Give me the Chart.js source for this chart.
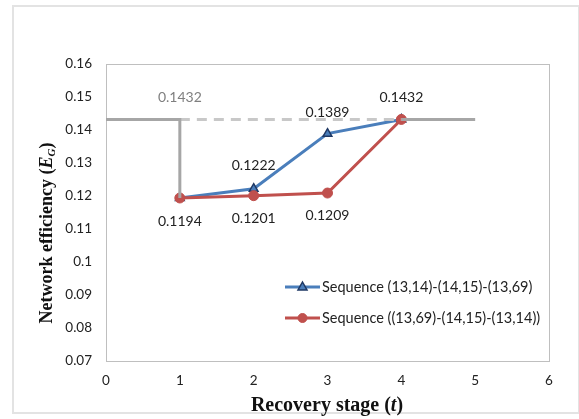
<!DOCTYPE html>
<html>
<head>
<meta charset="utf-8">
<script src="https://cdn.jsdelivr.net/npm/chart.js@4/dist/chart.umd.min.js"></script>
<style>
  html, body { margin: 0; padding: 0; background: #fff; }
  #wrap { width: 579px; height: 419px; position: relative; }
</style>
</head>
<body>
<div id="wrap"><canvas id="c" width="579" height="419"></canvas></div>
<script>
// Recovery stages and network efficiency for each repair sequence
const stages = [1, 2, 3, 4];
const seqA = [0.1194, 0.1222, 0.1389, 0.1432];   // (13,14)-(14,15)-(13,69)
const seqB = [0.1194, 0.1201, 0.1209, 0.1432];   // (13,69)-(14,15)-(13,14)
const seriesNames = ['Sequence (13,14)-(14,15)-(13,69)', 'Sequence ((13,69)-(14,15)-(13,14))'];

// Undamaged reference efficiency and the drop right after the disruption
const baseStages = [0, 1, 4, 5];
const baseValue = [0.1432, 0.1432, 0.1432, 0.1432];
const dropValue = [0.1194];

const xTicks = [0, 1, 2, 3, 4, 5, 6];
const yTicks = [0.07, 0.08, 0.09, 0.1, 0.11, 0.12, 0.13, 0.14, 0.15, 0.16];

const BLUE = '#4a7ebb';
const RED = '#c0504d';
const GREY = '#a6a6a6';
const GREY_DASH = '#c8c8c8';
const tickFont = { family: 'Lato, "Open Sans", sans-serif', size: 13.5 };

const pts = (xs, ys) => xs.map((x, i) => ({ x: x, y: ys[i] }));

const datasets = [
  { // solid reference before disruption, then the drop
    data: [{ x: baseStages[0], y: baseValue[0] }, { x: baseStages[1], y: baseValue[1] }, { x: baseStages[1], y: dropValue[0] }],
    borderColor: GREY, borderWidth: 3, pointRadius: 0, showLine: true, order: 1
  },
  { // dashed reference during recovery
    data: [{ x: baseStages[1], y: baseValue[1] }, { x: baseStages[2], y: baseValue[2] }],
    borderColor: GREY_DASH, borderWidth: 3, borderDash: [10, 7], pointRadius: 0, showLine: true, order: 1
  },
  { // solid reference after full recovery
    data: [{ x: baseStages[2], y: baseValue[2] }, { x: baseStages[3], y: baseValue[3] }],
    borderColor: GREY, borderWidth: 3, pointRadius: 0, showLine: true, order: 1
  },
  {
    label: seriesNames[0],
    data: pts(stages, seqA),
    borderColor: BLUE, borderWidth: 3, showLine: true,
    pointStyle: 'triangle', pointRadius: 5, pointBackgroundColor: BLUE,
    pointBorderColor: '#1f3864', pointBorderWidth: 1.5, order: 3
  },
  {
    label: seriesNames[1],
    data: pts(stages, seqB),
    borderColor: RED, borderWidth: 3, showLine: true,
    pointStyle: 'circle', pointRadius: 5, pointBackgroundColor: RED,
    pointBorderColor: RED, pointBorderWidth: 1, order: 2
  }
];

// Value labels: [dataset index, point index, vertical offset, colour]
const valueLabels = [
  [0, 1, -22, '#7f7f7f'],
  [3, 1, -23, '#222'],
  [3, 2, -21, '#222'],
  [3, 3, -22, '#222'],
  [4, 0, 24, '#222'],
  [4, 1, 23, '#222'],
  [4, 2, 22, '#222']
];

const decor = {
  id: 'decor',
  beforeDraw(chart) {
    const ctx = chart.ctx, a = chart.chartArea;
    ctx.save();
    ctx.fillStyle = '#fff';
    ctx.fillRect(0, 0, chart.width, chart.height);
    // outer frame
    ctx.strokeStyle = '#e3e3e3';
    ctx.lineWidth = 2;
    ctx.strokeRect(13, 6, 566, 407);
    // plot box
    ctx.strokeStyle = '#bfbfbf';
    ctx.lineWidth = 1;
    ctx.strokeRect(Math.round(a.left) + 0.5, Math.round(a.top) + 0.5, Math.round(a.right - a.left), Math.round(a.bottom - a.top));
    ctx.restore();
  },
  afterDraw(chart) {
    const ctx = chart.ctx, a = chart.chartArea;
    ctx.save();
    // data value labels
    ctx.font = '14px Lato, "Open Sans", sans-serif';
    ctx.textAlign = 'center';
    ctx.textBaseline = 'middle';
    valueLabels.forEach(([d, i, dy, col]) => {
      const el = chart.getDatasetMeta(d).data[i];
      const v = chart.data.datasets[d].data[i].y;
      ctx.fillStyle = col;
      ctx.fillText(v.toFixed(4), el.x, el.y + dy);
    });

    // legend inside the plot
    const lx = 285, lys = [287, 318];
    [3, 4].forEach((d, k) => {
      const ds = chart.data.datasets[d];
      const y = lys[k];
      const cx = lx + 17.5;
      ctx.strokeStyle = ds.borderColor;
      ctx.lineWidth = 3;
      ctx.beginPath(); ctx.moveTo(lx, y); ctx.lineTo(lx + 35, y); ctx.stroke();
      ctx.fillStyle = ds.pointBackgroundColor;
      ctx.strokeStyle = ds.pointBorderColor;
      ctx.lineWidth = ds.pointBorderWidth;
      ctx.beginPath();
      if (ds.pointStyle === 'triangle') {
        const r = 5;
        ctx.moveTo(cx, y - r);
        ctx.lineTo(cx + r * 0.9, y + r * 0.6);
        ctx.lineTo(cx - r * 0.9, y + r * 0.6);
        ctx.closePath();
      } else {
        ctx.arc(cx, y, 4.5, 0, Math.PI * 2);
      }
      ctx.fill(); ctx.stroke();
      ctx.fillStyle = '#222';
      ctx.font = '14.5px Lato, "Open Sans", sans-serif';
      ctx.textAlign = 'left';
      ctx.fillText(ds.label, lx + 37, y);
    });

    // axis titles (Times bold with italic symbols)
    const fam = '"Liberation Serif", "DejaVu Serif", serif';
    ctx.textBaseline = 'alphabetic';
    ctx.fillStyle = '#111';

    // x title
    const xParts = [['Recovery stage (', 'bold 20px ' + fam], ['t', 'italic bold 20px ' + fam], [')', 'bold 20px ' + fam]];
    let total = 0;
    xParts.forEach(([t, f]) => { ctx.font = f; total += ctx.measureText(t).width; });
    let x0 = 327 - total / 2;
    xParts.forEach(([t, f]) => { ctx.font = f; ctx.fillText(t, x0, 411); x0 += ctx.measureText(t).width; });

    // y title
    const yParts = [
      ['Network efficiency (', 'bold 18px ' + fam, 0],
      ['E', 'italic bold 18px ' + fam, 0],
      ['G', 'italic bold 11px ' + fam, 3],
      [')', 'bold 18px ' + fam, 0]
    ];
    total = 0;
    yParts.forEach(([t, f]) => { ctx.font = f; total += ctx.measureText(t).width; });
    ctx.translate(52, 233);
    ctx.rotate(-Math.PI / 2);
    let p = -total / 2;
    yParts.forEach(([t, f, dy]) => { ctx.font = f; ctx.fillText(t, p, dy); p += ctx.measureText(t).width; });
    ctx.restore();
  }
};

new Chart(document.getElementById('c'), {
  type: 'scatter',
  data: { datasets: datasets },
  options: {
    responsive: false,
    animation: false,
    events: [],
    layout: { padding: { top: 64, right: 30, left: 0, bottom: 0 } },
    plugins: { legend: { display: false }, tooltip: { enabled: false } },
    scales: {
      x: {
        type: 'linear', min: 0, max: 6,
        afterBuildTicks(s) { s.ticks = xTicks.map(v => ({ value: v })); },
        afterFit(s) { s.height = 58; },
        grid: { display: false, drawTicks: false },
        border: { display: false },
        ticks: { font: tickFont, color: '#222', padding: 12, maxRotation: 0 }
      },
      y: {
        type: 'linear', min: 0.07, max: 0.16,
        afterBuildTicks(s) { s.ticks = yTicks.map(v => ({ value: v })); },
        afterFit(s) { s.width = 106; },
        grid: { display: false, drawTicks: false },
        border: { display: false },
        ticks: {
          font: tickFont, color: '#222', padding: 14,
          callback: v => String(Math.round(v * 100) / 100)
        }
      }
    }
  },
  plugins: [decor]
});
</script>
</body>
</html>
